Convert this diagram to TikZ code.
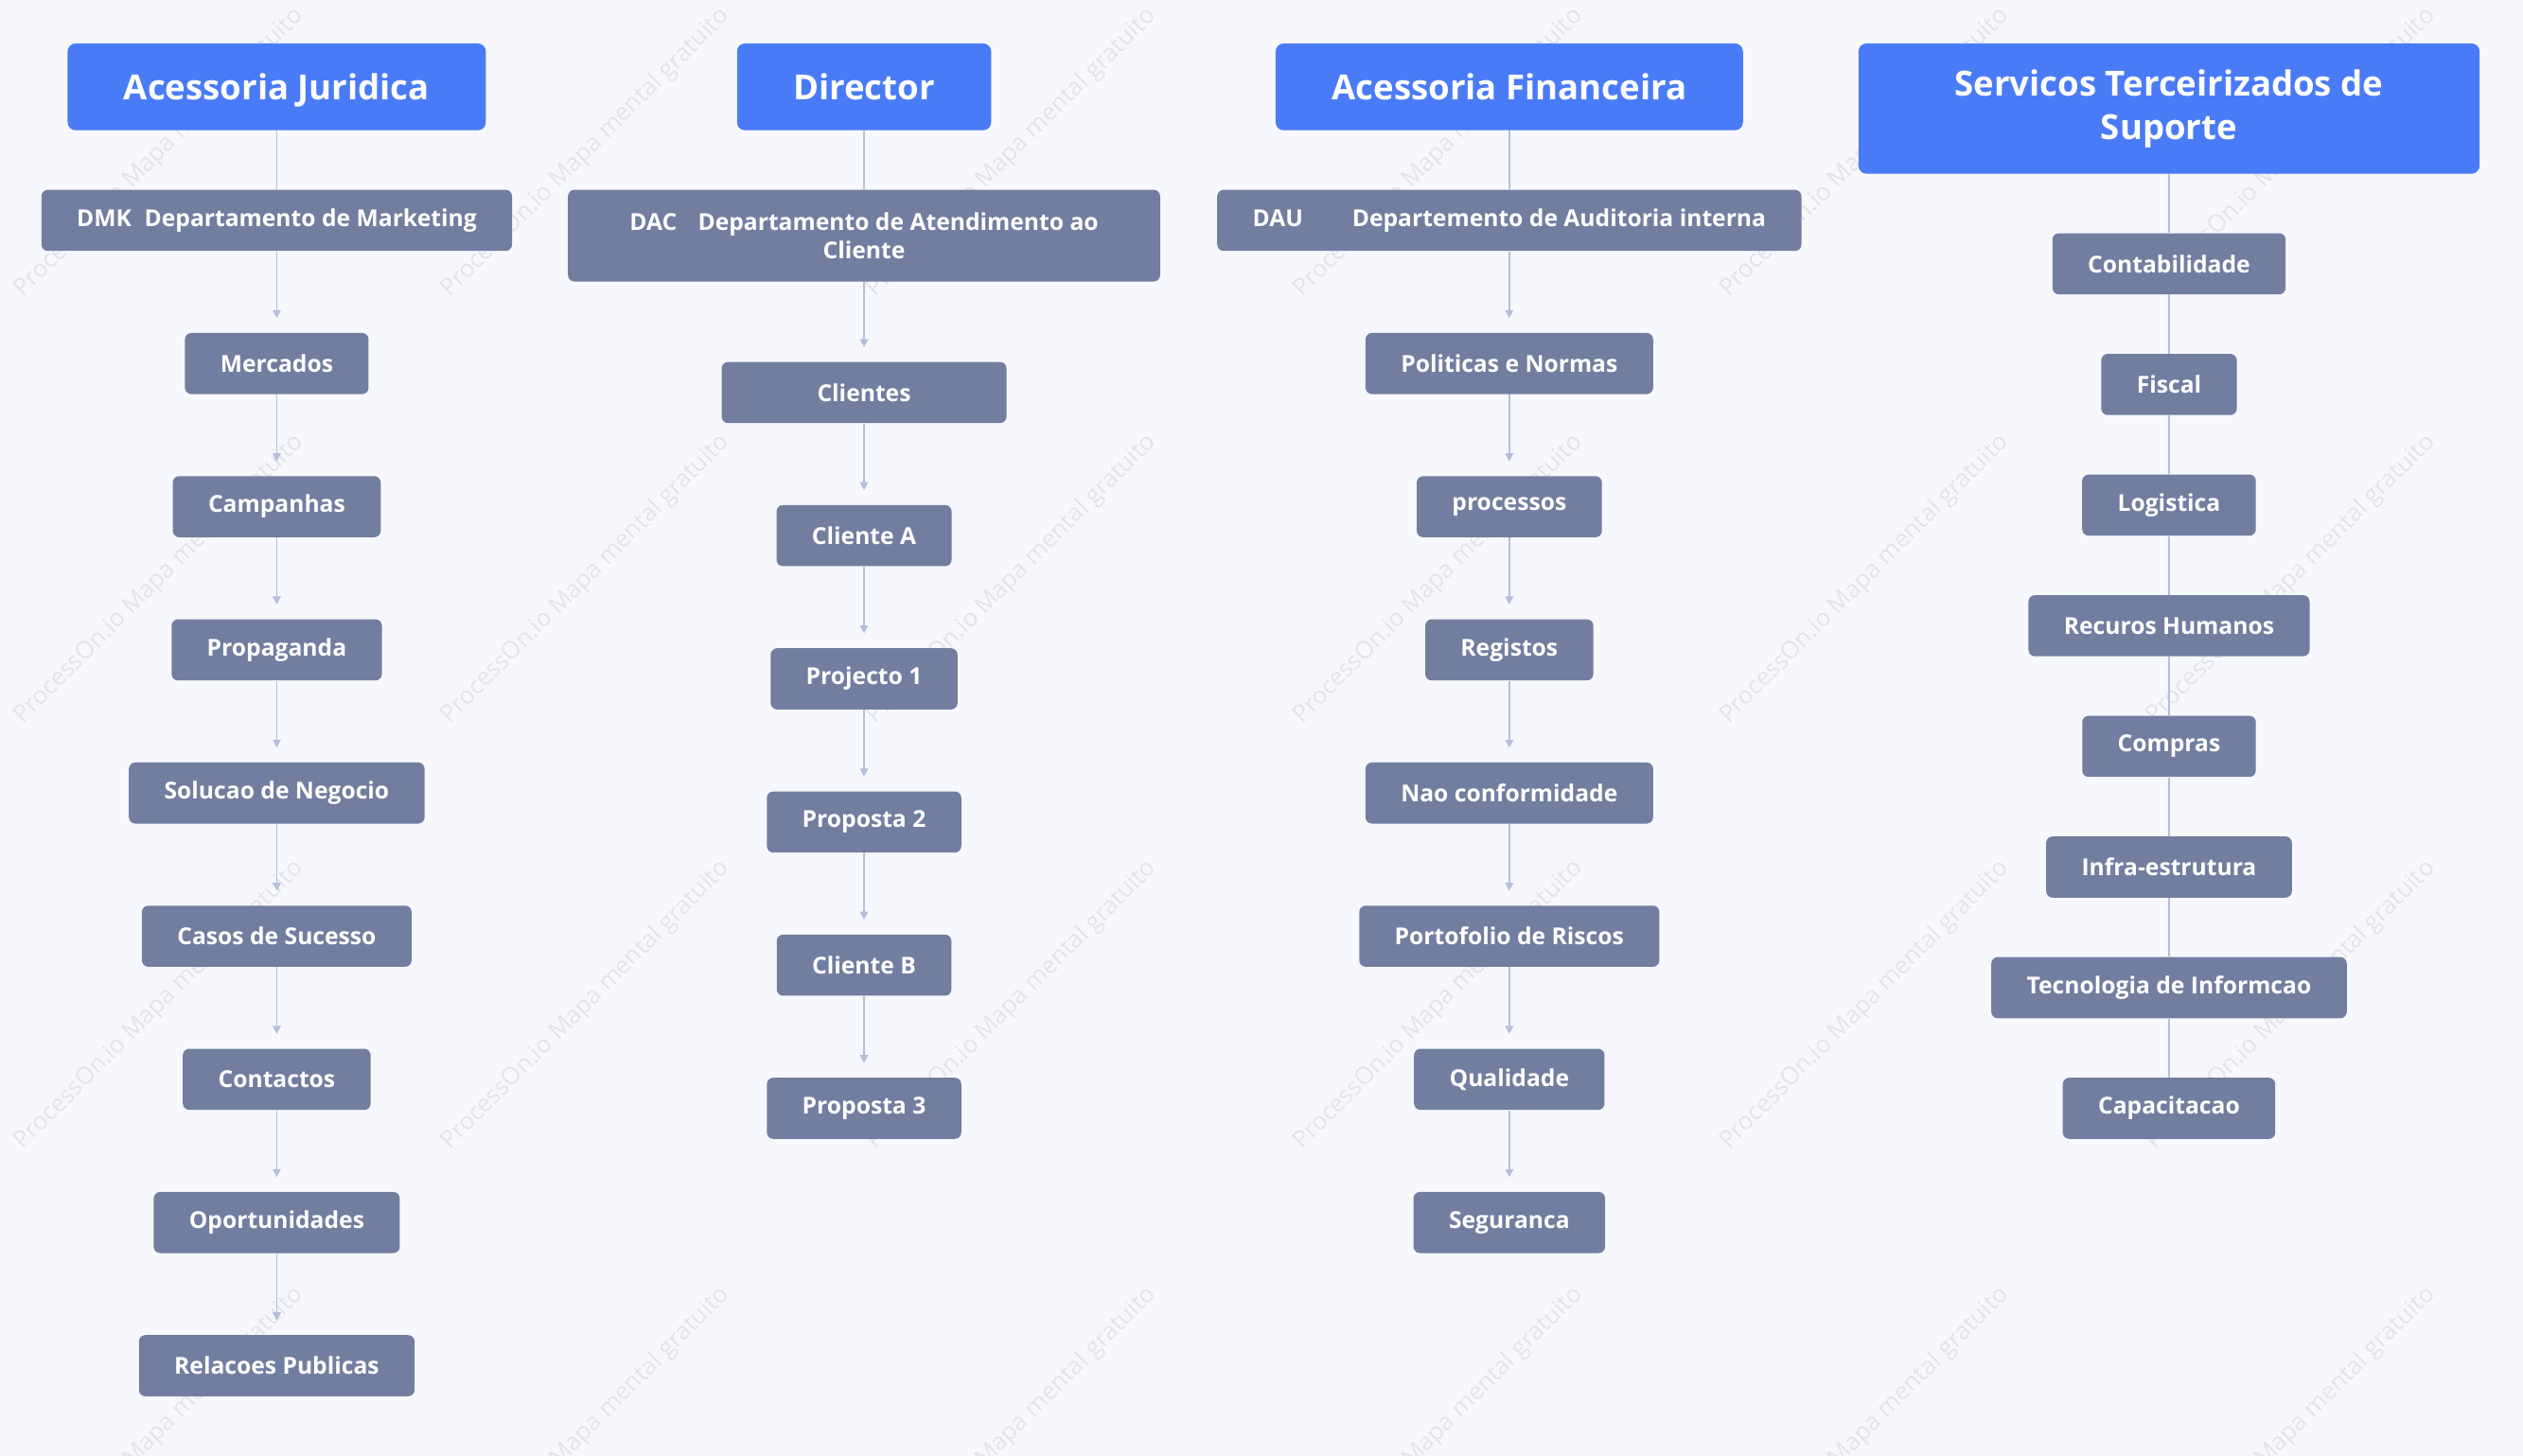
\documentclass[tikz,border=0pt]{standalone}
\usepackage{fontspec}
\setmainfont{Open Sans}
\usetikzlibrary{arrows.meta}

\definecolor{pagebg}{HTML}{F7F8FD}
\definecolor{headblue}{HTML}{4A7BF7}
\definecolor{itemgray}{HTML}{717EA0}
\definecolor{linkline}{HTML}{B4BEDD}
\definecolor{wmark}{HTML}{E2E4EA}

\begin{document}
\begin{tikzpicture}[x=1pt, y=-1pt]
\tikzset{head/.style={fill=headblue, rounded corners=5pt, text=white, align=center,
  font=\bfseries\fontsize{21.5}{27}\selectfont, minimum height=54pt, inner xsep=35pt}}
\tikzset{item/.style={fill=itemgray, rounded corners=4pt, text=white, align=center,
  font=\bfseries\fontsize{14.5}{17.5}\selectfont, minimum height=38pt, inner xsep=22pt}}
\tikzset{link/.style={draw=linkline, line width=1pt}}
\tikzset{arrowlink/.style={link, -{Triangle[length=5pt, width=5pt]}, shorten >=9pt}}

\useasboundingbox (0,0) rectangle (1568,905);
\fill[pagebg] (0,0) rectangle (1568,905);
%watermark
\foreach \i in {0,...,5}
  \foreach \j in {0,...,3}
    \node[rotate=45, text=wmark, font=\fontsize{15}{15}\selectfont] (wm-\i-\j)
      at (99+265*\i, 95+265*\j) {ProcessOn.io Mapa mental gratuito};

% Acessoria Juridica
\node[head, text depth=0pt] (acju) at (172,54) {Acessoria Juridica};
\node[item] (dmk) at (172,137) {DMK\hspace{0.55em}Departamento de Marketing};
\node[item] (mercados) at (172,226) {Mercados};
\node[item] (campanhas) at (172,315) {Campanhas};
\node[item] (propaganda) at (172,404) {Propaganda};
\node[item] (solucao) at (172,493) {Solucao de Negocio};
\node[item] (casos) at (172,582) {Casos de Sucesso};
\node[item] (contactos) at (172,671) {Contactos};
\node[item] (oportunidades) at (172,760) {Oportunidades};
\node[item] (relacoes) at (172,849) {Relacoes Publicas};
\draw[link] (acju) -- (dmk);
\draw[arrowlink] (dmk) -- (mercados);
\draw[arrowlink] (mercados) -- (campanhas);
\draw[arrowlink] (campanhas) -- (propaganda);
\draw[arrowlink] (propaganda) -- (solucao);
\draw[arrowlink] (solucao) -- (casos);
\draw[arrowlink] (casos) -- (contactos);
\draw[arrowlink] (contactos) -- (oportunidades);
\draw[arrowlink] (oportunidades) -- (relacoes);

% Director
\node[head] (director) at (537,54) {Director};
\node[item, minimum width=368pt, minimum height=57pt] (dac) at (537,146.5)
  {DAC\hspace{0.9em}Departamento de Atendimento ao\\Cliente};
\node[item, minimum width=177pt] (clientes) at (537,244) {Clientes};
\node[item] (clientea) at (537,333) {Cliente A};
\node[item] (projecto) at (537,422) {Projecto 1};
\node[item] (proposta2) at (537,511) {Proposta 2};
\node[item] (clienteb) at (537,600) {Cliente B};
\node[item] (proposta3) at (537,689) {Proposta 3};
\draw[link] (director) -- (dac);
\draw[arrowlink] (dac) -- (clientes);
\draw[arrowlink] (clientes) -- (clientea);
\draw[arrowlink] (clientea) -- (projecto);
\draw[arrowlink] (projecto) -- (proposta2);
\draw[arrowlink] (proposta2) -- (clienteb);
\draw[arrowlink] (clienteb) -- (proposta3);

% Acessoria Financeira
\node[head] (acfi) at (938,54) {Acessoria Financeira};
\node[item] (dau) at (938,137) {DAU\hspace{2.1em}Departemento de Auditoria interna};
\node[item] (politicas) at (938,226) {Politicas e Normas};
\node[item] (processos) at (938,315) {processos};
\node[item] (registos) at (938,404) {Registos};
\node[item] (naoconf) at (938,493) {Nao conformidade};
\node[item] (portofolio) at (938,582) {Portofolio de Riscos};
\node[item] (qualidade) at (938,671) {Qualidade};
\node[item] (seguranca) at (938,760) {Seguranca};
\draw[link] (acfi) -- (dau);
\draw[arrowlink] (dau) -- (politicas);
\draw[arrowlink] (politicas) -- (processos);
\draw[arrowlink] (processos) -- (registos);
\draw[arrowlink] (registos) -- (naoconf);
\draw[arrowlink] (naoconf) -- (portofolio);
\draw[arrowlink] (portofolio) -- (qualidade);
\draw[arrowlink] (qualidade) -- (seguranca);

% Servicos Terceirizados
\node[head, minimum width=386pt, minimum height=81pt] (servicos) at (1348,67.5)
  {Servicos Terceirizados de\\Suporte};
\node[item] (contabilidade) at (1348,164) {Contabilidade};
\node[item] (fiscal) at (1348,239) {Fiscal};
\node[item] (logistica) at (1348,314) {Logistica};
\node[item] (recursos) at (1348,389) {Recuros Humanos};
\node[item] (compras) at (1348,464) {Compras};
\node[item] (infra) at (1348,539) {Infra-estrutura};
\node[item] (tecnologia) at (1348,614) {Tecnologia de Informcao};
\node[item] (capacitacao) at (1348,689) {Capacitacao};
\draw[link] (servicos) -- (contabilidade);
\draw[link] (contabilidade) -- (fiscal);
\draw[link] (fiscal) -- (logistica);
\draw[link] (logistica) -- (recursos);
\draw[link] (recursos) -- (compras);
\draw[link] (compras) -- (infra);
\draw[link] (infra) -- (tecnologia);
\draw[link] (tecnologia) -- (capacitacao);
\end{tikzpicture}
\end{document}
